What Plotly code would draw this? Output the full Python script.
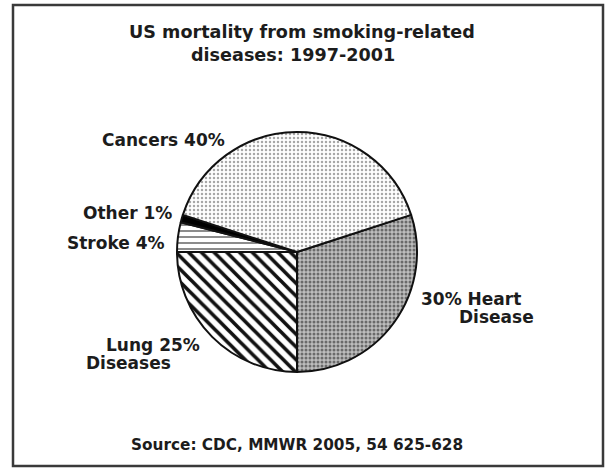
import plotly.graph_objects as go

# ---- data ----
categories = ["Heart Disease", "Lung Diseases", "Stroke", "Other", "Cancers"]
percentages = [30, 25, 4, 1, 40]
# label lines as printed on the chart
label_lines = [
    ["30% Heart", "Disease"],
    ["Lung 25%", "Diseases"],
    ["Stroke 4%"],
    ["Other 1%"],
    ["Cancers 40%"],
]
title_lines = ["US mortality from smoking-related", "diseases: 1997-2001"]
source_text = "Source: CDC, MMWR 2005, 54 625-628"

W, H = 605, 468
def px(x):
    return x / W
def py(y):
    return 1 - y / H

FONT = "DejaVu Sans"
TXT = "#1c1c1c"

fig = go.Figure()
fig.add_trace(go.Pie(
    labels=categories,
    values=percentages,
    sort=False,
    direction="clockwise",
    rotation=72,
    textinfo="none",
    hoverinfo="label+percent",
    showlegend=False,
    domain=dict(x=[px(177), px(417)], y=[py(372), py(132)]),
    marker=dict(
        colors=["#b8b8b8", "white", "white", "black", "white"],
        line=dict(color="#111", width=2),
        pattern=dict(
            shape=[".", "\\", "-", "", "."],
            fgcolor=["#6a6a6a", "#111111", "#666666", "black", "#a8a8a8"],
            bgcolor=["#bdbdbd", "white", "white", "black", "white"],
            size=[4, 9, 6, 4, 4],
            solidity=[0.45, 0.4, 0.25, 0.3, 0.3],
            fillmode="replace",
        ),
    ),
))

# label positions (pixel centers for each line)
label_pos = [
    [(471, 299), (497, 317)],
    [(153, 345), (128, 363)],
    [(116, 243)],
    [(127, 213)],
    [(164, 140)],
]
annotations = []
for lines, poss in zip(label_lines, label_pos):
    for t, (x, y) in zip(lines, poss):
        annotations.append(dict(
            text=f"<b>{t}</b>", x=px(x), y=py(y), xref="paper", yref="paper",
            showarrow=False, xanchor="center", yanchor="middle",
            font=dict(family=FONT, size=17, color=TXT)))

for t, (x, y) in zip(title_lines, [(302, 32), (293, 55)]):
    annotations.append(dict(
        text=f"<b>{t}</b>", x=px(x), y=py(y), xref="paper", yref="paper",
        showarrow=False, xanchor="center", yanchor="middle",
        font=dict(family=FONT, size=17.6, color=TXT)))

annotations.append(dict(
    text=f"<b>{source_text}</b>", x=px(297), y=py(445), xref="paper", yref="paper",
    showarrow=False, xanchor="center", yanchor="middle",
    font=dict(family=FONT, size=15.3, color=TXT)))

fig.update_layout(
    width=W, height=H,
    margin=dict(l=0, r=0, t=0, b=0),
    paper_bgcolor="white",
    plot_bgcolor="white",
    annotations=annotations,
    shapes=[dict(type="rect", xref="paper", yref="paper",
                 x0=px(13), x1=px(603), y0=py(466), y1=py(5),
                 line=dict(color="#3a3a3a", width=2.5))],
)

fig.write_html("out.html",
               config={"displayModeBar": False},
               post_script="document.body.style.margin='0px';document.body.style.overflow='hidden';")
